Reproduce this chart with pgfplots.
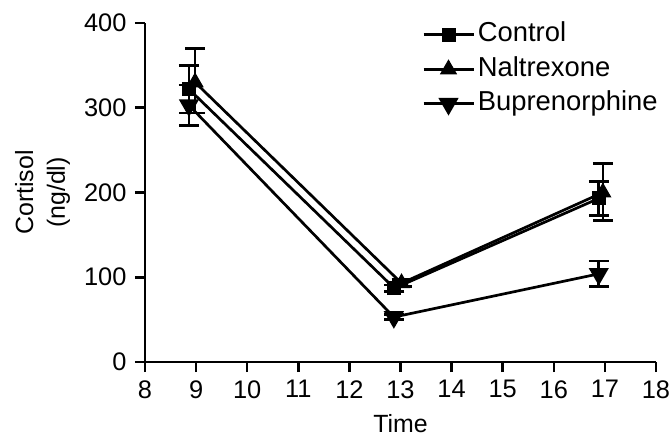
\documentclass[border=0pt]{standalone}
\usepackage{pgfplots}
\pgfplotsset{compat=1.18}
\usepackage{fontspec}
\setmainfont{Liberation Sans}
\begin{document}
\fontsize{25}{30}\selectfont
\begin{tikzpicture}
\begin{axis}[
  scale only axis, width=511bp, height=339bp,
  xmin=8, xmax=18, ymin=0, ymax=400,
  xtick={8,9,...,18}, ytick={0,100,200,300,400},
  axis x line=bottom, axis y line=left,
  axis line style={line width=2.8bp, -},
  tick style={line width=2.6bp, black},
  tick align=outside, major tick length=10bp,
  xlabel={Time}, ylabel={Cortisol\\(ng/dl)},
  ylabel style={at={(axis description cs:-0.13,0.5)}, anchor=south, align=center, font=\fontsize{25}{32}\selectfont},
  xlabel style={at={(axis description cs:0.5,-0.207)}, anchor=base, inner sep=0pt, font=\fontsize{25}{30}\selectfont},
  /pgf/number format/assume math mode=true,
  tick label style={font=\fontsize{25.5}{30}\selectfont},
  clip=false,
  cycle list={{black}},
  legend style={draw=none, fill=none, inner sep=0pt, at={(axis description cs:0.542,1.004)}, anchor=north west,
    font=\fontsize{27.5}{31}\selectfont, row sep=8.5bp, column sep=0pt,
    nodes={inner sep=0pt, text height=20bp, text depth=6bp}},
  legend cell align=left,
  legend image code/.code={\draw[mark repeat=2,mark phase=2,#1] plot coordinates {(0bp,0bp) (25bp,0bp) (50bp,0bp)}; \path (53bp,0bp);},
  every axis plot/.append style={black, line width=2.7bp, mark options={solid, line width=1bp}},
  error bars/error bar style={line width=2.6bp, black},
  error bars/error mark options={rotate=90, mark size=10bp, line width=2.6bp},
]
\addplot[black, mark=square*, mark size=6.5bp, error bars/.cd, y dir=both, y explicit]
  coordinates {
   (8.86,322) +- (0,28)
   (12.88,87) +- (0,4)
   (16.88,193) +- (0,20)
  };
\addlegendentry{Control}
\addplot[black, mark=triangle*, mark size=9bp, error bars/.cd, y dir=both, y explicit]
  coordinates {
   (8.98,330) += (0,40) -= (0,36)
   (13.02,93) +- (0,4)
   (16.96,200) += (0,34) -= (0,33)
  };
\addlegendentry{Naltrexone}
\addplot[black, mark=triangle*, mark options={rotate=180}, mark size=9bp, error bars/.cd, y dir=both, y explicit]
  coordinates {
   (8.86,303) +- (0,24)
   (12.87,53) +- (0,3)
   (16.88,104) +- (0,15)
  };
\addlegendentry{Buprenorphine}
\coordinate (O) at (rel axis cs:0,0);
\end{axis}
\pgfresetboundingbox
\useasboundingbox ([shift={(-145bp,-75bp)}]O) rectangle ++(671bp,437bp);
\end{tikzpicture}
\end{document}
